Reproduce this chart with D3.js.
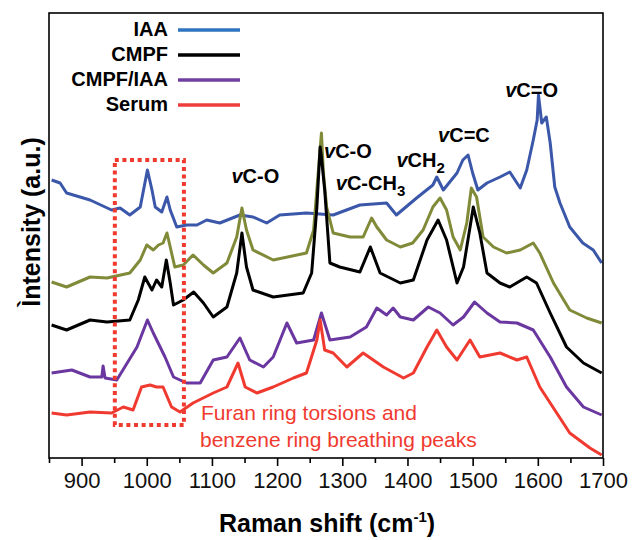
<!DOCTYPE html>
<html>
<head>
<meta charset="utf-8">
<script src="https://cdn.jsdelivr.net/npm/d3@7"></script>
<style>
  body { margin: 0; background: #fff; }
  text { font-family: Arial, "Liberation Sans", sans-serif; }
</style>
</head>
<body>
<div id="container"></div>
<script>
// Raman spectra, [shift (cm-1), intensity (a.u., offset traces)]
let iaaData = [[854,278],[867,275],[877,265],[913,258],[946,248],[959,250],[974,243],[990,251],[1001,288],[1008,268],[1013,251],[1023,246],[1031,261],[1036,248],[1046,231],[1061,233],[1077,233],[1092,238],[1112,235],[1143,243],[1163,241],[1184,235],[1204,243],[1245,245],[1286,243],[1327,253],[1368,255],[1383,243],[1414,260],[1439,273],[1445,281],[1455,268],[1476,285],[1485,298],[1493,303],[1500,285],[1508,268],[1522,275],[1542,281],[1557,286],[1573,270],[1583,288],[1593,318],[1599,338],[1601,363],[1606,335],[1613,341],[1619,315],[1626,271],[1634,255],[1649,231],[1669,215],[1685,208],[1698,195]];
let mixData = [[854,176],[877,171],[913,181],[939,180],[974,185],[990,198],[1000,213],[1010,208],[1018,213],[1025,215],[1031,225],[1036,211],[1043,191],[1056,193],[1071,203],[1087,193],[1102,185],[1123,195],[1138,221],[1146,250],[1153,228],[1163,208],[1194,198],[1245,205],[1256,228],[1263,285],[1268,325],[1271,285],[1276,251],[1286,225],[1312,221],[1332,221],[1345,240],[1353,231],[1368,218],[1389,211],[1408,215],[1424,228],[1439,251],[1450,260],[1460,248],[1470,221],[1481,208],[1491,235],[1498,270],[1506,261],[1516,221],[1532,211],[1552,205],[1573,208],[1593,215],[1603,205],[1624,175],[1649,148],[1675,140],[1698,135]];
let cmpfData = [[854,133],[877,128],[913,138],[939,136],[974,138],[987,158],[997,181],[1002,175],[1008,168],[1015,178],[1023,171],[1030,198],[1036,175],[1041,153],[1056,158],[1072,166],[1087,155],[1102,141],[1123,151],[1138,185],[1146,225],[1153,191],[1163,168],[1194,161],[1240,165],[1253,185],[1261,251],[1266,311],[1268,301],[1273,268],[1281,195],[1296,191],[1327,186],[1343,211],[1358,185],[1389,175],[1409,178],[1430,218],[1447,238],[1460,218],[1476,175],[1486,191],[1501,251],[1511,225],[1522,185],[1542,175],[1557,171],[1583,181],[1598,175],[1619,145],[1644,111],[1670,95],[1698,85]];
let cmpfIaaData = [[854,85],[885,88],[913,81],[931,81],[933,92],[936,80],[954,78],[985,111],[1001,138],[1010,125],[1028,101],[1041,81],[1061,75],[1082,75],[1102,98],[1123,101],[1143,120],[1158,98],[1179,91],[1194,101],[1215,135],[1230,115],[1256,118],[1268,145],[1281,118],[1312,121],[1337,131],[1353,150],[1368,143],[1378,150],[1389,141],[1409,138],[1432,151],[1450,145],[1470,133],[1486,141],[1503,156],[1522,145],[1542,136],[1568,135],[1593,128],[1619,101],[1644,71],[1670,51],[1698,43]];
let serumData = [[854,45],[877,43],[913,46],[946,45],[964,51],[979,48],[992,71],[1005,73],[1015,71],[1025,71],[1038,51],[1051,46],[1071,55],[1102,65],[1123,71],[1140,95],[1151,71],[1169,65],[1194,71],[1225,80],[1245,85],[1261,118],[1266,138],[1273,108],[1286,105],[1307,91],[1332,105],[1363,91],[1394,80],[1409,85],[1430,111],[1445,128],[1460,111],[1476,98],[1496,118],[1511,101],[1542,105],[1568,98],[1583,101],[1603,71],[1629,45],[1649,25],[1680,10],[1698,3]];

let legendNames = ["IAA", "CMPF", "CMPF/IAA", "Serum"];
let legendColors = ["#2e74c1", "#000000", "#7040a0", "#f03c3c"];
let xTicks = [900, 1000, 1100, 1200, 1300, 1400, 1500, 1600, 1700];
let xMinorTicks = [850, 950, 1050, 1150, 1250, 1350, 1450, 1550, 1650];

// peak labels: [text, subscript, shift, intensity]
let peakLabels = [
  ["C-O", "", 1130, 275],
  ["C-O", "", 1272, 300],
  ["C-CH", "3", 1290, 268],
  ["CH", "2", 1383, 291],
  ["C=C", "", 1447, 316],
  ["C=O", "", 1550, 361]
];

let w = 632;
let h = 540;
let padLeft = 49, padRight = 603, padTop = 13, padBottom = 458;

let viz = d3.select("#container")
              .append("svg")
              .attr("width", w)
              .attr("height", h)
              .style("background", "white")
;

let xScale = d3.scaleLinear().domain([850, 1700]).range([padLeft, padRight]);
let yScale = d3.scaleLinear().domain([0, 445]).range([padBottom, padTop]);

//lines
let lineMaker = d3.line()
                    .x(function(d){return xScale(d[0])})
                    .y(function(d){return yScale(d[1])})
;

let series = [
  {data: iaaData, color: "#3b57aa"},
  {data: mixData, color: "#808a38"},
  {data: cmpfData, color: "#000000"},
  {data: cmpfIaaData, color: "#6a37a0"},
  {data: serumData, color: "#f03a30"}
];

viz.append("g").attr("class", "graphGroup")
    .selectAll(".line").data(series).enter()
    .append("path")
      .attr("class", "line")
      .attr("d", function(d){return lineMaker(d.data)})
      .attr("fill", "none")
      .attr("stroke", function(d){return d.color})
      .attr("stroke-width", 3)
      .attr("stroke-linejoin", "round")
;

//frame
viz.append("rect")
    .attr("x", padLeft).attr("y", padTop)
    .attr("width", padRight - padLeft).attr("height", padBottom - padTop)
    .attr("fill", "none").attr("stroke", "black").attr("stroke-width", 1.6)
;

//xAxis
let xAxis = d3.axisBottom(xScale).tickValues(xTicks).tickSize(8).tickPadding(6).tickFormat(d3.format("d"));
let xAxisGroup = viz.append("g")
                      .attr("class", "xaxisgroup")
                      .attr("transform", "translate(0," + padBottom + ")")
;
xAxisGroup.call(xAxis);
xAxisGroup.select(".domain").remove();
xAxisGroup.selectAll(".tick line").attr("stroke-width", 1.6);
xAxisGroup.selectAll("text")
            .style("font-size", "22px")
            .style("font-family", "Arial, 'Liberation Sans', sans-serif")
            .attr("fill", "#111")
;
let minorAxis = d3.axisBottom(xScale).tickValues(xMinorTicks).tickSize(5).tickFormat("");
let minorGroup = viz.append("g").attr("transform", "translate(0," + padBottom + ")");
minorGroup.call(minorAxis);
minorGroup.select(".domain").remove();
minorGroup.selectAll(".tick line").attr("stroke-width", 1.6);

//axis titles
let xTitle = viz.append("text")
                  .attr("x", 327).attr("y", 532)
                  .attr("text-anchor", "middle")
                  .style("font-size", "25px").style("font-weight", "bold")
;
xTitle.append("tspan").text("Raman shift (cm");
xTitle.append("tspan").attr("dy", -10).style("font-size", "15px").text("-1");
xTitle.append("tspan").attr("dy", 10).text(")");

viz.append("text")
    .attr("transform", "translate(40,222) rotate(-90)")
    .attr("text-anchor", "middle")
    .style("font-size", "25px").style("font-weight", "bold")
    .text("Ìntensity (a.u.)")
;

//legend
let legend = viz.append("g").attr("class", "legend");
legendNames.forEach(function(name, i){
  let y = 29 + i * 25;
  legend.append("text")
          .attr("x", 168).attr("y", y + 7)
          .attr("text-anchor", "end")
          .style("font-size", "20px").style("font-weight", "bold")
          .text(name);
  legend.append("line")
          .attr("x1", 178).attr("x2", 240)
          .attr("y1", y + 1).attr("y2", y + 1)
          .attr("stroke", legendColors[i]).attr("stroke-width", 3.5);
});

//peak labels
peakLabels.forEach(function(p){
  let t = viz.append("text")
               .attr("x", xScale(p[2])).attr("y", yScale(p[3]))
               .style("font-size", "20px").style("font-weight", "bold");
  t.append("tspan").style("font-style", "italic").text("v");
  t.append("tspan").text(p[0]);
  if (p[1] != "") {
    t.append("tspan").attr("dy", 6).style("font-size", "15px").text(p[1]);
  }
});

//highlighted region
viz.append("rect")
    .attr("x", xScale(951)).attr("y", yScale(298))
    .attr("width", xScale(1057) - xScale(951))
    .attr("height", yScale(33) - yScale(298))
    .attr("fill", "none")
    .attr("stroke", "#f03a30")
    .attr("stroke-width", 4)
    .attr("stroke-dasharray", "4,3.6")
;

let note = viz.append("text")
                .attr("x", 201).attr("y", 420)
                .attr("fill", "#f03a30")
                .style("font-size", "21px")
;
note.append("tspan").attr("x", 201).text("Furan ring torsions and");
note.append("tspan").attr("x", 200).attr("dy", 27).text("benzene ring breathing peaks");
</script>
</body>
</html>
